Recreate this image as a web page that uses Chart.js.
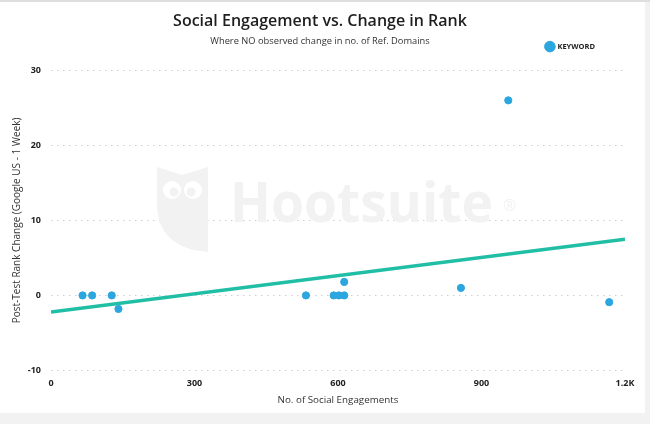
<!DOCTYPE html>
<html><head><meta charset="utf-8">
<script src="https://cdn.jsdelivr.net/npm/chart.js@4"></script>
<style>
html,body{margin:0;padding:0;background:#f2f2f2;}
#topline{position:absolute;left:0;top:0;width:650px;height:2px;background:#dedede;}
#panel{position:absolute;left:0;top:2px;width:645px;height:411px;background:#ffffff;}
#wrap{position:absolute;left:0;top:0;width:650px;height:424px;}
</style></head><body>
<div id="topline"></div><div id="panel"></div>
<div id="wrap"><canvas id="c" width="650" height="424"></canvas></div>
<script>
// ---- data ----
const engagements = [66, 86, 127, 141, 533, 591, 602, 613, 613, 857, 956, 1167];
const rankChange  = [0, 0, 0, -1.8, 0, 0, 0, 0, 1.8, 1, 26, -0.9];
const trendX = [0, 1200];
const trendY = [-2.2, 7.5];
const xTickValues = [0, 300, 600, 900, 1200];
const xTickLabels = ['0', '300', '600', '900', '1.2K'];
const yTickValues = [-10, 0, 10, 20, 30];
const seriesName = 'KEYWORD';

Chart.defaults.font.family = '"Open Sans", "Noto Sans", sans-serif';

const watermark = {
  id: 'watermark',
  beforeDatasetsDraw(chart) {
    const ctx = chart.ctx;
    ctx.save();
    ctx.fillStyle = '#f2f2f2';
    // owl
    ctx.beginPath();
    ctx.moveTo(157, 167);
    ctx.lineTo(182, 175);
    ctx.lineTo(208, 167);
    ctx.lineTo(208, 252);
    ctx.quadraticCurveTo(158, 248, 157, 205);
    ctx.closePath();
    ctx.fill();
    ctx.fillStyle = '#ffffff';
    ctx.beginPath(); ctx.arc(172, 190, 9, 0, Math.PI * 2); ctx.fill();
    ctx.beginPath(); ctx.arc(193, 190, 9, 0, Math.PI * 2); ctx.fill();
    ctx.fillStyle = '#f2f2f2';
    ctx.beginPath(); ctx.arc(174, 192, 4.5, 0, Math.PI * 2); ctx.fill();
    ctx.beginPath(); ctx.arc(191, 192, 4.5, 0, Math.PI * 2); ctx.fill();
    // text
    ctx.font = 'bold 56px "Open Sans"';
    ctx.textBaseline = 'alphabetic';
    const w = ctx.measureText('Hootsuite').width;
    ctx.translate(230, 222);
    ctx.scale(263 / w, 1);
    ctx.fillText('Hootsuite', 0, 0);
    ctx.restore();
    ctx.save();
    ctx.fillStyle = '#f2f2f2';
    ctx.font = '16px "Open Sans"';
    ctx.fillText('\u00AE', 503, 206);
    ctx.restore();
  }
};

const legendShift = {
  id: 'legendShift',
  afterLayout(chart) {
    const l = chart.legend;
    if (!l) return;
    l.top -= 10; l.bottom -= 10;
    l.left -= 20; l.right -= 20;
  }
};

new Chart(document.getElementById('c'), {
  type: 'scatter',
  data: {
    datasets: [
      {
        label: seriesName,
        data: engagements.map((x, i) => ({x: x, y: rankChange[i]})),
        backgroundColor: '#2ba6df',
        borderColor: '#2ba6df',
        pointRadius: 3.6,
        pointHoverRadius: 3.6,
        pointStyle: 'circle',
        order: 0
      },
      {
        type: 'line',
        label: 'trend',
        data: trendX.map((x, i) => ({x: x, y: trendY[i]})),
        borderColor: '#21bea6',
        backgroundColor: '#21bea6',
        borderWidth: 3.5,
        pointRadius: 0,
        fill: false,
        order: 1
      }
    ]
  },
  options: {
    responsive: false,
    animation: false,
    layout: { padding: { left: 15, right: 25, top: 0, bottom: 10 } },
    plugins: {
      title: {
        display: true,
        text: 'Social Engagement vs. Change in Rank',
        color: '#1e1e1e',
        font: { size: 16, weight: 600 },
        padding: { top: 12, bottom: 0 }
      },
      subtitle: {
        display: true,
        text: 'Where NO observed change in no. of Ref. Domains',
        color: '#333333',
        font: { size: 9.3, weight: 'normal' },
        padding: { top: 5, bottom: -4.5 }
      },
      legend: {
        display: true,
        position: 'top',
        align: 'end',
        labels: {
          usePointStyle: true,
          pointStyle: 'circle',
          color: '#222222',
          font: { size: 7.5, weight: 'bold' },
          padding: 10,
          filter: (item) => item.datasetIndex === 0
        }
      },
      tooltip: { enabled: false }
    },
    scales: {
      x: {
        type: 'linear',
        min: 0, max: 1200,
        afterBuildTicks: (s) => { s.ticks = xTickValues.map(v => ({value: v})); },
        grid: { display: false, drawTicks: false },
        border: { display: false },
        ticks: {
          padding: 8,
          maxRotation: 0,
          color: '#222222',
          font: { size: 9, weight: 'bold' },
          callback: (v) => { const i = xTickValues.indexOf(v); return i >= 0 ? xTickLabels[i] : ''; }
        },
        title: {
          display: true,
          text: 'No. of Social Engagements',
          color: '#333333',
          font: { size: 9.8 },
          padding: { top: -3, bottom: 8 }
        }
      },
      y: {
        type: 'linear',
        min: -10, max: 30,
        afterBuildTicks: (s) => { s.ticks = yTickValues.map(v => ({value: v})); },
        afterFit: (s) => { s.width = 36; },
        grid: { color: '#cfcfcf', lineWidth: 1, drawTicks: false },
        border: { display: false, dash: [1.5, 4.5] },
        ticks: {
          padding: 10,
          color: '#222222',
          font: { size: 9, weight: 'bold' }
        },
        title: {
          display: true,
          text: 'Post-Test Rank Change (Google US - 1 Week)',
          color: '#333333',
          font: { size: 10 },
          padding: { top: -4, bottom: 0 }
        }
      }
    }
  },
  plugins: [watermark, legendShift]
});
</script>
</body></html>
